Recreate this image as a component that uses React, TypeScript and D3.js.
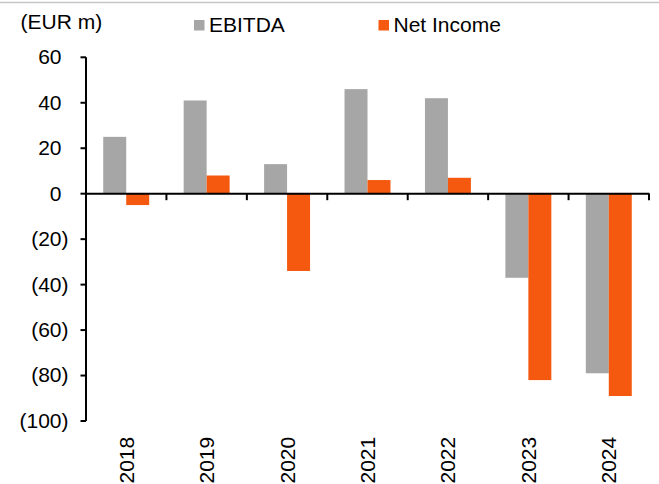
import React from "react";
import * as d3 from "d3";

const years = ["2018", "2019", "2020", "2021", "2022", "2023", "2024"];
const ebitda = [25, 41, 13, 46, 42, -37, -79];
const netIncome = [-5, 8, -34, 6, 7, -82, -89];
const seriesNames = ["EBITDA", "Net Income"];
const seriesColors = ["#A6A6A6", "#F4590F"];
const yTicks = [60, 40, 20, 0, -20, -40, -60, -80, -100];

const W = 659;
const H = 484;
const FONT = "Arial, 'Liberation Sans', Helvetica, sans-serif";

export default function App() {
  const x = d3.scaleBand<string>().domain(years).range([86, 649]).paddingInner(0).paddingOuter(0);
  const sub = d3
    .scaleBand<string>()
    .domain(seriesNames)
    .range([0, x.bandwidth()])
    .paddingInner(0)
    .paddingOuter(0.75);
  const y = d3.scaleLinear().domain([-100, 60]).range([421, 57.3]);
  const y0 = y(0);

  const fmt = (v: number) => (v < 0 ? `(${Math.abs(v)})` : `${v}`);
  const series = [ebitda, netIncome];
  const boundaries = years.map((yr) => (x(yr) as number) + x.bandwidth());

  return (
    <svg
      width={W}
      height={H}
      style={{ position: "absolute", left: 0, top: 0, background: "#fff" }}
      fontFamily={FONT}
    >
      <rect x={0} y={0} width={W} height={H} fill="#fff" />
      <line x1={0} x2={W} y1={2.5} y2={2.5} stroke="#C6C6C6" strokeWidth={1.6} />

      {/* unit label */}
      <text x={20.5} y={28.5} fontSize={21} fill="#000">
        (EUR m)
      </text>

      {/* legend */}
      {seriesNames.map((name, i) => {
        const lx = i === 0 ? 194 : 378.5;
        return (
          <g key={name}>
            <rect x={lx} y={20} width={10.5} height={10.5} fill={seriesColors[i]} />
            <text x={lx + 15} y={31.7} fontSize={21} fill="#000">
              {name}
            </text>
          </g>
        );
      })}

      {/* bars */}
      {series.map((vals, si) =>
        vals.map((v, i) => {
          const bx = (x(years[i]) as number) + (sub(seriesNames[si]) as number);
          const top = Math.min(y(v), y0);
          const h = Math.abs(y(v) - y0);
          return (
            <rect
              key={`${si}-${i}`}
              x={bx}
              y={top}
              width={sub.bandwidth()}
              height={h}
              fill={seriesColors[si]}
            />
          );
        })
      )}

      {/* y axis */}
      <line x1={86} x2={86} y1={y(60)} y2={y(-100)} stroke="#000" strokeWidth={2} />
      {yTicks.map((t) => (
        <g key={t}>
          <line x1={80.5} x2={86} y1={y(t)} y2={y(t)} stroke="#000" strokeWidth={2} />
          <text
            x={t < 0 ? 68.5 : 61.5}
            y={y(t)}
            dy="0.33em"
            textAnchor="end"
            fontSize={21}
            fill="#000"
          >
            {fmt(t)}
          </text>
        </g>
      ))}

      {/* category axis along zero */}
      <line x1={86} x2={649.5} y1={y0} y2={y0} stroke="#000" strokeWidth={2} />
      {boundaries.map((bx, i) => (
        <line key={i} x1={bx} x2={bx} y1={y0} y2={y0 + 6.5} stroke="#000" strokeWidth={2} />
      ))}

      {/* year labels */}
      {years.map((yr) => {
        const cx = (x(yr) as number) + x.bandwidth() / 2;
        return (
          <text
            key={yr}
            transform={`translate(${cx},436.8) rotate(-90)`}
            textAnchor="end"
            dy="0.36em"
            fontSize={21}
            fill="#000"
          >
            {yr}
          </text>
        );
      })}
    </svg>
  );
}
